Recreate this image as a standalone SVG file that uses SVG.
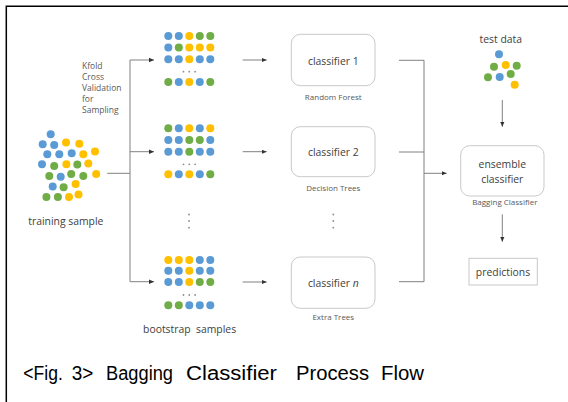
<svg xmlns="http://www.w3.org/2000/svg" width="568" height="402" viewBox="0 0 568 402">
<style>
.b{fill:#5b9bd5}.y{fill:#ffc000}.g{fill:#70ad47}
.t{font-family:"Open Sans","Liberation Sans",sans-serif;fill:#404040}
.m{font-size:10.4px}.s{font-size:8px;fill:#595959}
.k{font-size:8.5px;fill:#595959}
.box{fill:#fff;stroke:#c9c9c9;stroke-width:1}
.ln{fill:none;stroke:#808080;stroke-width:1}
.dot{fill:#8c8c8c}
.cap{font-family:"Liberation Sans",Arial,sans-serif;font-size:20px;fill:#000}
</style>
<defs>
<marker id="ah" markerUnits="userSpaceOnUse" markerWidth="6" markerHeight="6" refX="5" refY="3" orient="auto">
<path d="M0,0.8 L5,3 L0,5.2 Z" fill="#333"/>
</marker>
</defs>
<rect width="568" height="402" fill="#fff"/>
<path d="M6.3,402 V6.3 H568" fill="none" stroke="#000" stroke-width="1.5"/>

<g id="training-sample">
<circle class="b" cx="50.7" cy="134.3" r="4"/>
<circle class="b" cx="42.7" cy="144.3" r="4"/><circle class="b" cx="54.2" cy="145" r="4"/><circle class="y" cx="66" cy="142.5" r="4"/><circle class="y" cx="79.3" cy="143.8" r="4"/>
<circle class="b" cx="47.3" cy="154.2" r="4"/><circle class="b" cx="59.3" cy="154.3" r="4"/><circle class="b" cx="71.7" cy="153.3" r="4"/><circle class="y" cx="83.3" cy="154.3" r="4"/><circle class="y" cx="95" cy="151.5" r="4"/>
<circle class="b" cx="42" cy="164.2" r="4"/><circle class="g" cx="54.2" cy="166" r="4"/><circle class="y" cx="66.4" cy="164.3" r="4"/><circle class="g" cx="77.3" cy="164.6" r="4"/><circle class="y" cx="88.3" cy="163.6" r="4"/>
<circle class="g" cx="49.3" cy="176" r="4"/><circle class="b" cx="60.7" cy="176.7" r="4"/><circle class="g" cx="71.2" cy="174" r="4"/><circle class="g" cx="83.3" cy="176" r="4"/><circle class="y" cx="96.2" cy="174" r="4"/>
<circle class="b" cx="52.7" cy="186.4" r="4"/><circle class="g" cx="63.6" cy="187.2" r="4"/><circle class="y" cx="75.6" cy="184" r="4"/>
<circle class="g" cx="46.4" cy="197" r="4"/><circle class="g" cx="57.9" cy="197" r="4"/><circle class="y" cx="69" cy="197" r="4"/><circle class="y" cx="78.5" cy="194.5" r="4"/>
<text class="t m" x="65.8" y="224.5" text-anchor="middle">training sample</text>
</g>

<g id="kfold-label">
<text class="t k" x="82" y="68.7">Kfold</text>
<text class="t k" x="82" y="79.9">Cross</text>
<text class="t k" x="82" y="91.1">Validation</text>
<text class="t k" x="82" y="102.3">for</text>
<text class="t k" x="82" y="113.3">Sampling</text>
</g>

<g id="bootstrap-1">
<circle class="b" cx="168.3" cy="36" r="4"/><circle class="b" cx="178.8" cy="36" r="4"/><circle class="y" cx="189.3" cy="36" r="4"/><circle class="g" cx="199.8" cy="36" r="4"/><circle class="g" cx="210.3" cy="36" r="4"/>
<circle class="b" cx="168.3" cy="47.6" r="4"/><circle class="g" cx="178.8" cy="47.6" r="4"/><circle class="y" cx="189.3" cy="47.6" r="4"/><circle class="y" cx="199.8" cy="47.6" r="4"/><circle class="y" cx="210.3" cy="47.6" r="4"/>
<circle class="b" cx="168.3" cy="59.3" r="4"/><circle class="b" cx="178.8" cy="59.3" r="4"/><circle class="y" cx="189.3" cy="59.3" r="4"/><circle class="b" cx="199.8" cy="59.3" r="4"/><circle class="b" cx="210.3" cy="59.3" r="4"/>
<circle class="dot" cx="183.5" cy="71.7" r="0.9"/><circle class="dot" cx="189.3" cy="71.7" r="0.9"/><circle class="dot" cx="195.1" cy="71.7" r="0.9"/>
<circle class="g" cx="168.3" cy="82" r="4"/><circle class="b" cx="178.8" cy="82" r="4"/><circle class="y" cx="189.3" cy="82" r="4"/><circle class="b" cx="199.8" cy="82" r="4"/><circle class="g" cx="210.3" cy="82" r="4"/>
</g>

<g id="bootstrap-2">
<circle class="g" cx="168.3" cy="128.3" r="4"/><circle class="b" cx="178.8" cy="128.3" r="4"/><circle class="y" cx="189.3" cy="128.3" r="4"/><circle class="b" cx="199.8" cy="128.3" r="4"/><circle class="y" cx="210.3" cy="128.3" r="4"/>
<circle class="b" cx="168.3" cy="140" r="4"/><circle class="b" cx="178.8" cy="140" r="4"/><circle class="g" cx="189.3" cy="140" r="4"/><circle class="g" cx="199.8" cy="140" r="4"/><circle class="b" cx="210.3" cy="140" r="4"/>
<circle class="b" cx="168.3" cy="151.7" r="4"/><circle class="b" cx="178.8" cy="151.7" r="4"/><circle class="g" cx="189.3" cy="151.7" r="4"/><circle class="b" cx="199.8" cy="151.7" r="4"/><circle class="b" cx="210.3" cy="151.7" r="4"/>
<circle class="dot" cx="183.5" cy="164.3" r="0.9"/><circle class="dot" cx="189.3" cy="164.3" r="0.9"/><circle class="dot" cx="195.1" cy="164.3" r="0.9"/>
<circle class="y" cx="168.3" cy="174.3" r="4"/><circle class="b" cx="178.8" cy="174.3" r="4"/><circle class="y" cx="189.3" cy="174.3" r="4"/><circle class="b" cx="199.8" cy="174.3" r="4"/><circle class="g" cx="210.3" cy="174.3" r="4"/>
</g>

<g id="bootstrap-dots">
<circle class="dot" cx="189" cy="214.5" r="0.9"/><circle class="dot" cx="189" cy="221" r="0.9"/><circle class="dot" cx="189" cy="227.7" r="0.9"/>
</g>

<g id="bootstrap-n">
<circle class="y" cx="168.3" cy="260" r="4"/><circle class="y" cx="178.8" cy="260" r="4"/><circle class="y" cx="189.3" cy="260" r="4"/><circle class="b" cx="199.8" cy="260" r="4"/><circle class="b" cx="210.3" cy="260" r="4"/>
<circle class="b" cx="168.3" cy="270.8" r="4"/><circle class="b" cx="178.8" cy="270.8" r="4"/><circle class="y" cx="189.3" cy="270.8" r="4"/><circle class="b" cx="199.8" cy="270.8" r="4"/><circle class="b" cx="210.3" cy="270.8" r="4"/>
<circle class="b" cx="168.3" cy="282" r="4"/><circle class="b" cx="178.8" cy="282" r="4"/><circle class="y" cx="189.3" cy="282" r="4"/><circle class="g" cx="199.8" cy="282" r="4"/><circle class="g" cx="210.3" cy="282" r="4"/>
<circle class="dot" cx="183.5" cy="295" r="0.9"/><circle class="dot" cx="189.3" cy="295" r="0.9"/><circle class="dot" cx="195.1" cy="295" r="0.9"/>
<circle class="g" cx="168.3" cy="305.3" r="4"/><circle class="g" cx="178.8" cy="305.3" r="4"/><circle class="b" cx="189.3" cy="305.3" r="4"/><circle class="b" cx="199.8" cy="305.3" r="4"/><circle class="b" cx="210.3" cy="305.3" r="4"/>
<text class="t m" x="189.6" y="333" text-anchor="middle" xml:space="preserve">bootstrap  samples</text>
</g>

<g id="classifier-1">
<rect class="box" x="291.3" y="34.3" width="83.7" height="51.4" rx="9"/>
<text class="t m" x="333.3" y="64.7" text-anchor="middle">classifier 1</text>
<text class="t s" x="333.3" y="100" text-anchor="middle">Random Forest</text>
</g>
<g id="classifier-2">
<rect class="box" x="291.3" y="126.7" width="83.7" height="50" rx="9"/>
<text class="t m" x="333.3" y="156.3" text-anchor="middle">classifier 2</text>
<text class="t s" x="333.3" y="191" text-anchor="middle">Decision Trees</text>
</g>
<g id="classifier-dots">
<circle class="dot" cx="333.3" cy="214.5" r="0.9"/><circle class="dot" cx="333.3" cy="221" r="0.9"/><circle class="dot" cx="333.3" cy="227.7" r="0.9"/>
</g>
<g id="classifier-n">
<rect class="box" x="291.3" y="257" width="83.7" height="51.3" rx="9"/>
<text class="t m" x="333.3" y="286.5" text-anchor="middle">classifier <tspan font-style="italic">n</tspan></text>
<text class="t s" x="333.3" y="319.5" text-anchor="middle">Extra Trees</text>
</g>

<g id="test-data">
<text class="t m" x="500.8" y="42.5" text-anchor="middle">test data</text>
<circle class="b" cx="499" cy="54.3" r="4"/>
<circle class="g" cx="494" cy="66.7" r="4"/><circle class="y" cx="505.7" cy="65" r="4"/><circle class="g" cx="516.7" cy="65.7" r="4"/>
<circle class="g" cx="488" cy="77.3" r="4"/><circle class="b" cx="499.7" cy="77" r="4"/><circle class="g" cx="510.7" cy="74" r="4"/>
<circle class="y" cx="514.7" cy="84.7" r="4"/>
</g>

<g id="ensemble">
<rect class="box" x="460.7" y="145.7" width="83.3" height="50.3" rx="9"/>
<text class="t m" x="502.3" y="168.3" text-anchor="middle">ensemble</text>
<text class="t m" x="502.3" y="182.5" text-anchor="middle">classifier</text>
<text class="t s" x="504.8" y="205" text-anchor="middle">Bagging Classifier</text>
</g>

<g id="predictions">
<rect class="box" x="469" y="258.3" width="68.3" height="26.7"/>
<text class="t m" x="503" y="275.5" text-anchor="middle">predictions</text>
</g>

<g id="connectors">
<path class="ln" d="M107.3,173.3 H130 M130,60 V281.7"/>
<path class="ln" d="M130,60 H154" marker-end="url(#ah)"/>
<path class="ln" d="M130,151.7 H154" marker-end="url(#ah)"/>
<path class="ln" d="M130,281.7 H154" marker-end="url(#ah)"/>
<path class="ln" d="M242.7,60 H266.7" marker-end="url(#ah)"/>
<path class="ln" d="M242.7,151.7 H266.7" marker-end="url(#ah)"/>
<path class="ln" d="M242.7,282 H266.7" marker-end="url(#ah)"/>
<path class="ln" d="M399,60.3 H424 M399,152 H424 M399,281.7 H424 M424,60.3 V281.7"/>
<path class="ln" d="M424,173.3 H446.7" marker-end="url(#ah)"/>
<path class="ln" d="M502.3,100 V126.7" marker-end="url(#ah)"/>
<path class="ln" d="M502.3,214.3 V241.7" marker-end="url(#ah)"/>
</g>

<g id="caption" class="cap">
<text x="23.3" y="380" textLength="39.5" lengthAdjust="spacingAndGlyphs">&lt;Fig.</text>
<text x="71.7" y="380" textLength="21.6" lengthAdjust="spacingAndGlyphs">3&gt;</text>
<text x="106" y="380" textLength="67" lengthAdjust="spacingAndGlyphs">Bagging</text>
<text x="186" y="380" textLength="91" lengthAdjust="spacingAndGlyphs">Classifier</text>
<text x="296" y="380" textLength="73" lengthAdjust="spacingAndGlyphs">Process</text>
<text x="381" y="380" textLength="43" lengthAdjust="spacingAndGlyphs">Flow</text>
</g>
</svg>
